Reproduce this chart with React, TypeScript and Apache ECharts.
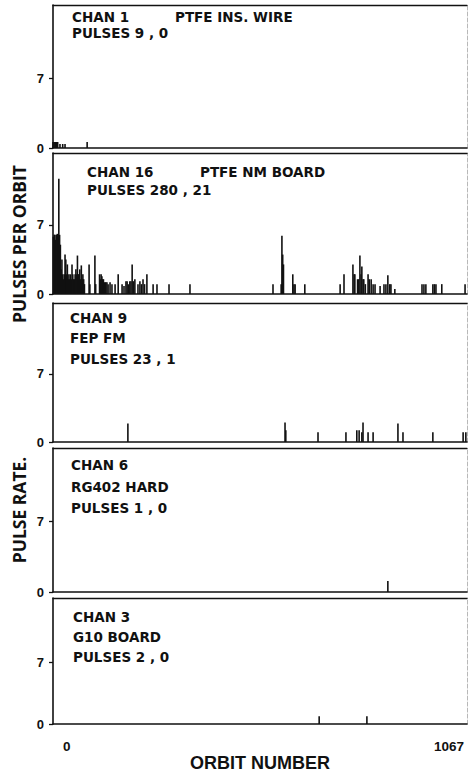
import React, { useEffect, useRef } from "react";
import * as echarts from "echarts";

// ---- data ----
const orbitMin = 0;
const orbitMax = 1067;
const yTicks = [0, 7];
const yMax = 14.3;

const chan1Orbits = [0, 3, 6, 9, 12, 18, 25, 31, 88];
const chan1Values = [0.6, 0.6, 0.6, 0.6, 0.6, 0.4, 0.4, 0.4, 0.6];

const chan16Orbits = [
  1, 3, 5, 7, 9, 11, 13, 15, 17, 19, 21, 23, 25, 27, 29, 31, 33, 35, 37, 39, 41, 43, 45, 47, 49, 51, 53, 55, 57, 59,
  61, 63, 65, 67, 69, 71, 73, 75, 77, 79, 81, 93, 95, 108, 110, 120, 122, 124, 126, 128, 130, 133, 136, 139, 142,
  147, 152, 160, 168, 178, 183, 188, 191, 194, 198, 201, 204, 207, 211, 219, 224, 228, 232, 236, 242, 258, 268, 299,
  353, 567, 588, 590, 592, 594, 618, 621, 624, 649, 740, 750, 773, 776, 778, 785, 788, 791, 794, 796, 799, 801, 805,
  812, 815, 820, 825, 830, 843, 853, 858, 863, 868, 871, 881, 951, 956, 961, 979, 983, 987, 1002, 1062,
];
const chan16Values = [
  5.8, 6.0, 6.0, 5.5, 6.0, 6.1, 5.8, 11.7, 6.0, 5.0, 2.5, 3.5, 2.0, 1.5, 2.0, 4.0, 3.5, 2.0, 3.0, 1.5, 2.0, 1.5, 2.0,
  1.5, 3.0, 2.0, 1.5, 1.5, 2.0, 2.5, 2.0, 3.9, 2.0, 2.0, 2.5, 1.5, 2.9, 1.5, 2.0, 1.5, 1.0, 3.0, 1.0, 3.9, 1.0, 2.0,
  1.5, 2.0, 1.8, 1.5, 1.5, 1.2, 1.2, 1.2, 1.0, 1.2, 1.0, 1.0, 2.0, 1.0, 0.8, 1.3, 1.3, 1.0, 1.3, 1.3, 3.0, 1.3, 1.5,
  1.0, 1.3, 1.0, 1.5, 1.0, 2.0, 1.0, 1.0, 1.0, 1.0, 1.0, 1.0, 5.9, 4.0, 3.0, 2.0, 1.0, 1.0, 1.0, 1.0, 2.0, 3.0, 2.0,
  2.0, 1.5, 1.5, 3.9, 2.0, 2.8, 1.5, 1.5, 1.0, 2.0, 1.5, 1.5, 1.0, 1.0, 0.8, 1.0, 1.0, 1.9, 1.0, 1.0, 0.5, 1.0, 1.0,
  1.0, 1.0, 1.0, 1.0, 1.0, 1.0,
];

const chan9Orbits = [193, 598, 600, 683, 755, 783, 789, 796, 799, 812, 825, 889, 902, 979, 1057, 1064];
const chan9Values = [1.9, 2.0, 1.2, 1.0, 1.0, 1.2, 1.2, 1.0, 2.0, 1.0, 1.0, 1.9, 1.0, 1.0, 1.0, 1.0];

const chan6Orbits = [863];
const chan6Values = [1.1];

const chan3Orbits = [686, 809];
const chan3Values = [0.9, 0.9];

const panelLabels = [
  ["CHAN 1", "PTFE INS. WIRE", "PULSES 9 , 0"],
  ["CHAN 16", "PTFE NM BOARD", "PULSES 280 , 21"],
  ["CHAN 9", "FEP FM", "PULSES 23 , 1"],
  ["CHAN 6", "RG402 HARD", "PULSES 1 , 0"],
  ["CHAN 3", "G10 BOARD", "PULSES 2 , 0"],
];
const yTitleTop = "PULSES PER ORBIT";
const yTitleBottom = "PULSE RATE.";
const xTitle = "ORBIT NUMBER";

// ---- layout ----
const LEFT = 53;
const WIDTH = 414;
const grids = [
  { top: 5, height: 143 },
  { top: 153, height: 141 },
  { top: 303, height: 139 },
  { top: 448, height: 144 },
  { top: 598, height: 141 },
];

const seriesData = [
  [chan1Orbits, chan1Values],
  [chan16Orbits, chan16Values],
  [chan9Orbits, chan9Values],
  [chan6Orbits, chan6Values],
  [chan3Orbits, chan3Values],
];

const INK = "#111";
const panelFont = { fontFamily: "DejaVu Sans", fontWeight: "bold" as const, fontSize: 13.5, fill: INK };

export default function App() {
  const ref = useRef<HTMLDivElement>(null);

  useEffect(() => {
    document.body.style.margin = "0";
    const chart = echarts.init(ref.current!, null, { renderer: "svg" });

    const xAxes: any[] = [];
    const yAxes: any[] = [];
    const series: any[] = [];
    grids.forEach((g, i) => {
      const last = i === grids.length - 1;
      xAxes.push({
        gridIndex: i,
        type: "value",
        min: orbitMin,
        max: orbitMax,
        interval: orbitMax,
        position: "bottom",
        axisLine: { show: true, onZero: false, lineStyle: { color: INK, width: 1.6 } },
        axisTick: { show: false },
        splitLine: { show: false },
        axisLabel: {
          show: last,
          formatter: (v: number) => String(v),
          alignMinLabel: "left",
          alignMaxLabel: "right",
          padding: [0, 3, 0, 10],
          margin: 15,
          color: INK,
          fontFamily: "Liberation Sans",
          fontWeight: "bold",
          fontSize: 13.5,
        },
        name: last ? xTitle : "",
        nameLocation: "middle",
        nameGap: 17,
        nameTextStyle: { color: INK, fontFamily: "Liberation Sans", fontWeight: "bold", fontSize: 18 },
      });
      xAxes.push({
        gridIndex: i,
        type: "value",
        min: orbitMin,
        max: orbitMax,
        position: "top",
        axisLine: { show: true, onZero: false, lineStyle: { color: INK, width: 1.3 } },
        axisTick: { show: false },
        axisLabel: { show: false },
        splitLine: { show: false },
      });
      yAxes.push({
        gridIndex: i,
        type: "value",
        min: 0,
        max: yMax,
        position: "left",
        axisLine: { show: true, onZero: false, lineStyle: { color: INK, width: 1.6 } },
        axisTick: { show: true, length: 4, customValues: yTicks, lineStyle: { color: INK, width: 1.3 } },
        axisLabel: {
          customValues: yTicks,
          margin: 9,
          color: INK,
          fontFamily: "Liberation Sans",
          fontWeight: "bold",
          fontSize: 13,
        },
        splitLine: { show: false },
      });
      yAxes.push({
        gridIndex: i,
        type: "value",
        min: 0,
        max: yMax,
        position: "right",
        axisLine: { show: true, onZero: false, lineStyle: { color: "#b8b8b8", width: 1, type: "dashed" } },
        axisTick: { show: false },
        axisLabel: { show: false },
        splitLine: { show: false },
      });
      const [orbits, values] = seriesData[i];
      series.push({
        type: "bar",
        xAxisIndex: 2 * i,
        yAxisIndex: 2 * i,
        barWidth: 1.6,
        itemStyle: { color: INK },
        data: orbits.map((o, k) => [o, values[k]]),
      });
    });

    // panel annotation positions
    const labelPos = [
      [[72, 17], [175, 17], [72, 33]],
      [[87, 172], [200, 172], [87, 190]],
      [[70, 318], [70, 338], [70, 359]],
      [[71, 465], [71, 487], [71, 508]],
      [[73, 617], [73, 637], [73, 657]],
    ];
    const graphics: any[] = [];
    panelLabels.forEach((lines, i) => {
      lines.forEach((t, k) => {
        graphics.push({
          type: "text",
          x: labelPos[i][k][0],
          y: labelPos[i][k][1],
          style: { ...panelFont, text: t, align: "left", verticalAlign: "middle" },
        });
      });
    });
    graphics.push({
      type: "text",
      x: 19,
      y: 244,
      rotation: Math.PI / 2,
      style: {
        text: yTitleTop,
        fontFamily: "Open Sans",
        fontWeight: "bold",
        fontSize: 17.5,
        fill: INK,
        align: "center",
        verticalAlign: "middle",
      },
    });
    graphics.push({
      type: "text",
      x: 19,
      y: 510,
      rotation: Math.PI / 2,
      style: {
        text: yTitleBottom,
        fontFamily: "Open Sans",
        fontWeight: "bold",
        fontSize: 17.5,
        fill: INK,
        align: "center",
        verticalAlign: "middle",
      },
    });

    chart.setOption({
      animation: false,
      backgroundColor: "#fff",
      grid: grids.map((g) => ({ left: LEFT, width: WIDTH, top: g.top, height: g.height, containLabel: false })),
      xAxis: xAxes,
      yAxis: yAxes,
      series,
      graphic: graphics,
    });

    return () => chart.dispose();
  }, []);

  return (
    <div
      ref={ref}
      style={{ position: "fixed", left: 0, top: 0, width: 470, height: 773, background: "#fff" }}
    />
  );
}
